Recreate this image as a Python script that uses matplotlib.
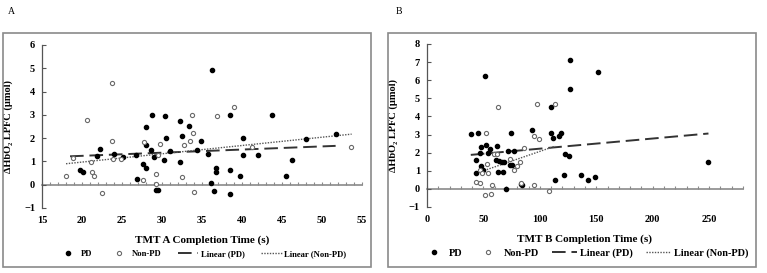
import matplotlib
matplotlib.use("Agg")
import matplotlib.pyplot as plt
from matplotlib.lines import Line2D
from matplotlib.patches import Rectangle
from matplotlib.ticker import MultipleLocator
import numpy as np

plt.rcParams['font.family'] = ['Liberation Serif', 'DejaVu Serif']

# panel A: TMT A completion time vs dHbO2
a_pd_x = [19.7, 20.1, 21.9, 22.3, 24.0, 25.1, 26.8, 26.9, 27.6, 28.0, 28.0, 28.0, 28.6, 28.8,
          29.0, 29.2, 29.5, 30.2, 30.4, 30.5, 31.0, 32.2, 32.2, 32.5, 33.4, 34.4, 34.9, 35.7,
          36.1, 36.3, 36.5, 36.8, 36.8, 38.5, 38.5, 38.5, 39.8, 40.1, 40.1, 42.0, 43.8, 45.5,
          46.2, 48.0, 51.7]
a_pd_y = [0.64, 0.54, 1.24, 1.54, 1.33, 1.19, 1.27, 0.24, 0.87, 2.46, 1.70, 0.71, 1.49, 3.00,
          1.17, -0.24, -0.24, 1.08, 2.93, 2.01, 1.43, 2.73, 0.98, 2.09, 2.50, 1.49, 1.89, 1.33,
          0.09, 4.91, -0.29, 0.71, 0.56, 3.00, 0.64, -0.39, 0.36, 2.00, 1.26, 1.27, 3.00, 0.36,
          1.05, 1.96, 2.16]
a_non_x = [18.0, 18.9, 20.6, 21.1, 21.3, 21.5, 22.5, 23.7, 23.7, 23.9, 24.9, 27.6, 27.7, 29.2,
           29.2, 29.5, 29.8, 32.5, 32.7, 33.5, 33.7, 33.9, 34.0, 36.9, 39.0, 41.3, 53.6]
a_non_y = [0.36, 1.13, 2.79, 0.97, 0.53, 0.36, -0.37, 4.36, 1.89, 1.09, 1.09, 0.22, 1.84, 0.46,
           0.03, 1.29, 1.76, 0.31, 1.70, 1.89, 2.99, 2.24, -0.33, 2.93, 3.33, 1.60, 1.60]
a_fit_pd = (0.0135, 0.97, 18.5, 51.7)     # slope, intercept, x start, x end
a_fit_non = (0.0356, 0.26, 18.0, 53.7)

# panel B: TMT B completion time vs dHbO2
b_pd_x = [38.8, 45.4, 43.6, 43.6, 46.6, 48.0, 48.0, 49.5, 51.3, 52.2, 53.7, 56.0, 62.0, 61.1,
          64.0, 63.2, 66.1, 67.0, 68.5, 69.7, 72.1, 73.5, 74.1, 75.6, 77.4, 83.3, 83.9, 92.8,
          109.7, 110.0, 111.5, 113.0, 117.1, 118.6, 122.5, 121.6, 126.2, 127.0, 127.0, 136.1,
          142.3, 149.2, 151.5, 249.4]
b_pd_y = [3.01, 3.10, 1.60, 0.90, 1.97, 2.29, 1.27, 1.03, 6.23, 2.40, 1.97, 2.20, 2.38, 1.59,
          1.55, 0.94, 1.46, 0.94, 1.48, -0.02, 2.10, 1.30, 3.10, 1.30, 2.10, 0.28, 0.24, 3.27,
          3.10, 4.51, 2.81, 0.48, 2.90, 3.10, 1.94, 0.75, 1.84, 7.11, 5.50, 0.75, 0.48, 0.66,
          6.43, 1.46]
b_non_x = [43.3, 46.9, 47.4, 48.9, 51.3, 52.2, 52.8, 54.3, 56.3, 57.8, 59.3, 62.0, 63.2, 73.8,
           77.4, 79.5, 82.7, 83.1, 86.3, 94.9, 94.9, 97.6, 99.4, 108.5, 113.0]
b_non_y = [0.39, 0.30, 1.03, 0.88, -0.35, 3.08, 1.40, 0.85, -0.30, 0.24, 1.94, 1.92, 4.54, 1.64,
           1.03, 1.29, 1.46, 0.30, 2.27, 0.20, 2.92, 4.69, 2.73, -0.11, 4.69]
b_fit_pd = (0.0056, 1.66, 38.8, 249.4)
b_fit_non = (0.0214, -0.07, 46.0, 113.6)

fig = plt.figure(figsize=(7.67, 2.73), dpi=100)

panels = [
    dict(rect=[0.0548, 0.2381, 0.4172, 0.5971], frame=[3, 371], letter='A', lx=8,
         pdx=a_pd_x, pdy=a_pd_y, nx=a_non_x, ny=a_non_y, fpd=a_fit_pd, fnon=a_fit_non,
         xlim=(15, 55), xmaj=5, xmin=1, ylim=(-1, 6), xlabel='TMT A Completion Time (s)',
         legsize=6.2, legsp=1.9),
    dict(rect=[0.5567, 0.2418, 0.4120, 0.5971], frame=[388, 756], letter='B', lx=396,
         pdx=b_pd_x, pdy=b_pd_y, nx=b_non_x, ny=b_non_y, fpd=b_fit_pd, fnon=b_fit_non,
         xlim=(0, 280), xmaj=50, xmin=10, ylim=(-1, 8), xlabel='TMT B Completion Time (s)',
         legsize=7.4, legsp=1.3),
]

for p in panels:
    # outer grey frame
    x0, x1 = p['frame']
    fig.patches.append(Rectangle((x0 / 767, 6 / 273), (x1 - x0) / 767, 234 / 273,
                                 transform=fig.transFigure, fill=False,
                                 edgecolor='#8a8a8a', linewidth=1.2))
    fig.text(p['lx'] / 767, 1 - 12 / 273, p['letter'], fontsize=7, ha='left', va='center')

    ax = fig.add_axes(p['rect'])
    ax.scatter(p['pdx'], p['pdy'], s=9, color='black', zorder=3)
    ax.scatter(p['nx'], p['ny'], s=9, facecolor='white', edgecolor='#6a6a6a',
               linewidths=0.8, zorder=3)

    k, b, xs, xe = p['fpd']
    xx = np.array([xs, xe])
    ax.plot(xx, k * xx + b, color='#333333', lw=1.4, dashes=(7, 3), zorder=2)
    k, b, xs, xe = p['fnon']
    xx = np.array([xs, xe])
    ax.plot(xx, k * xx + b, color='#555555', lw=1.0, ls=(0, (1, 1)), zorder=2)

    ax.set_xlim(*p['xlim'])
    ax.set_ylim(*p['ylim'])
    ax.xaxis.set_major_locator(MultipleLocator(p['xmaj']))
    ax.yaxis.set_major_locator(MultipleLocator(1))
    for s in ['top', 'right', 'bottom']:
        ax.spines[s].set_visible(False)
    ax.spines['left'].set_color('#555555')
    ax.spines['left'].set_linewidth(0.9)
    ax.tick_params(axis='x', length=0, pad=6, labelsize=7.5)
    ax.tick_params(axis='y', direction='in', length=3, color='#555555', pad=5, labelsize=7.5)
    for t in ax.get_xticklabels() + ax.get_yticklabels():
        t.set_fontweight('bold')

    # horizontal axis crossing at zero
    y0, y1 = p['ylim']
    sec = ax.secondary_xaxis((0 - y0) / (y1 - y0))
    sec.spines['bottom'].set_color('#8a8a8a')
    sec.spines['bottom'].set_linewidth(1.2)
    sec.xaxis.set_major_locator(MultipleLocator(p['xmin']))
    sec.tick_params(direction='in', length=2.5, color='#8a8a8a', labelbottom=False)

    ax.set_xlabel(p['xlabel'], fontsize=8, fontweight='bold', labelpad=7)
    ax.set_ylabel('ΔHbO₂ LPFC (μmol)', fontsize=7.5, fontweight='bold', labelpad=8)

    handles = [
        Line2D([], [], ls='none', marker='o', ms=3, color='black'),
        Line2D([], [], ls='none', marker='o', ms=3, mfc='white', mec='#6a6a6a', mew=0.8),
        Line2D([], [], color='#333333', lw=1.4, dashes=(7, 3)),
        Line2D([], [], color='#555555', lw=1.0, ls=(0, (1, 1))),
    ]
    leg = ax.legend(handles, ['PD', 'Non-PD', 'Linear (PD)', 'Linear (Non-PD)'],
                    loc='center', bbox_to_anchor=(0.5, -0.282), ncol=4, frameon=False,
                    prop={'size': p['legsize'], 'weight': 'bold'}, handlelength=2.4,
                    columnspacing=p['legsp'], handletextpad=0.3)

fig.savefig('out.png', dpi=100)
